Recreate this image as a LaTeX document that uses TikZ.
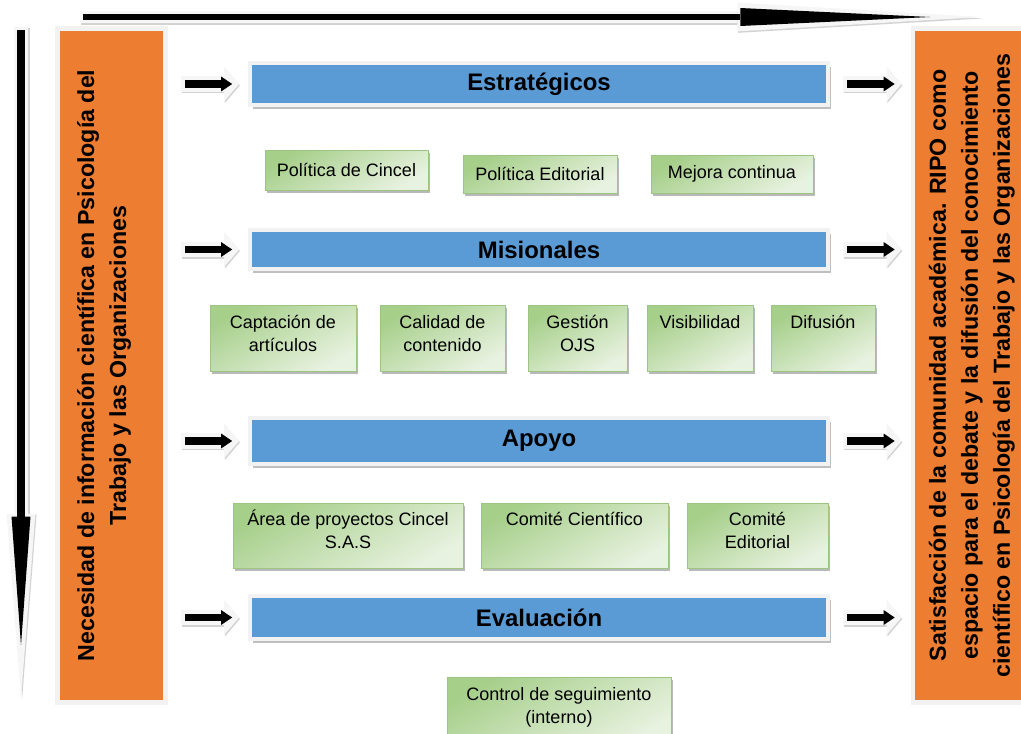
\documentclass[tikz,border=0pt]{standalone}
\usepackage{fontspec}
\setmainfont{Liberation Sans}
\usetikzlibrary{arrows.meta,shadows,positioning}

\definecolor{ripoorange}{HTML}{ED7D31}
\definecolor{ripoblue}{HTML}{5B9BD5}
\definecolor{greendark}{HTML}{A6CF8A}
\definecolor{greenlight}{HTML}{E8F2E0}
\definecolor{greenedge}{HTML}{9CC583}
\definecolor{framegray}{HTML}{F2F2F2}
\definecolor{tanshadow}{HTML}{D2B49C}

\tikzset{
    wh/.style 2 args={minimum width=#1*0.025cm, minimum height=#2*0.025cm},
    toptext/.style 2 args={text height=#1, text depth=#2},
    sidebox/.style={fill=ripoorange, draw=framegray, line width=3.5pt, inner sep=0pt,
        drop shadow={shadow xshift=1.6pt, shadow yshift=-1.6pt, fill=tanshadow, opacity=1},
        font=\fontsize{16.5}{22.7}\selectfont\bfseries},
    bar/.style={fill=ripoblue, draw=framegray, line width=2.8pt, inner sep=0pt,
        drop shadow={shadow xshift=1.8pt, shadow yshift=-2.6pt, fill=gray!50, opacity=1},
        font=\fontsize{17}{20}\selectfont\bfseries},
    task/.style={draw=greenedge, line width=0.6pt, inner sep=0pt, align=center,
        top color=greendark, bottom color=greenlight, shading angle=30,
        drop shadow={shadow xshift=1.6pt, shadow yshift=-2.2pt, fill=gray!55, opacity=1},
        font=\fontsize{12.8}{16.3}\selectfont},
    % layers of the small block arrows
    arredge/.style={draw=gray!35, line width=11.3pt, transform canvas={xshift=0.6pt, yshift=-1pt},
        -{Triangle[length=10.6pt, width=24.8pt, line width=0pt]}, shorten <=9.2pt, shorten >=6.4pt},
    arrlight/.style={draw=gray!7, line width=11.3pt,
        -{Triangle[length=10.6pt, width=24.8pt, line width=0pt]}, shorten <=9.2pt, shorten >=6.4pt},
    arrink/.style={draw=black, line width=5pt,
        -{Triangle[length=7.8pt, width=10.6pt, line width=0pt]}, shorten <=12.4pt, shorten >=11.3pt}
}

\begin{document}
\begin{tikzpicture}[x=0.025cm, y=-0.025cm]
    \useasboundingbox (0,0) rectangle (1021,733);

    % Orange side boxes: need and result
    \node[sidebox, wh={108}{674}] (Need) at (111.5,365.5)
        {\rotatebox{90}{\begin{tabular}{@{}c@{}}Necesidad de información científica en Psicología del\\
        Trabajo y las Organizaciones\end{tabular}}\hspace*{11pt}};
    \node[sidebox, wh={117}{674}] (Satis) at (971.5,365.5)
        {\rotatebox{90}{\begin{tabular}{@{}c@{}}Satisfacción de la comunidad académica. RIPO como\\
        espacio para el debate y la difusión del conocimiento\\
        científico en Psicología del Trabajo y las Organizaciones\end{tabular}}};

    % Process bars
    \draw (539,84) node[bar, wh={578}{42}] (Estrategicos) {Estratégicos}
    ++(0,165.5) node[bar, wh={578}{39}] (Misionales) {Misionales}
    ++(0,191.5) node[bar, wh={578}{46}] (Apoyo) {Apoyo}
    ++(0,176.5) node[bar, wh={578}{43}] (Evaluacion) {Evaluación};

    % Strategic
    \node[task, wh={163}{40}] (PolCincel) at (346.5,170) {Política de Cincel};
    \node[task, wh={154}{38}] (PolEditorial) at (540,174) {Política Editorial};
    \node[task, wh={162}{38}] (Mejora) at (732,174) {Mejora continua};

    % Missional
    \node[task, wh={146}{66}, toptext={1.15cm}{0.5cm}] (Captacion) at (283,338) {Captación de\\artículos};
    \node[task, wh={125}{66}, toptext={1.15cm}{0.5cm}] (Calidad) at (442.5,338) {Calidad de\\contenido};
    \node[task, wh={99}{66}, toptext={1.15cm}{0.5cm}] (Gestion) at (577.5,338) {Gestión\\OJS};
    \node[task, wh={106}{66}, toptext={0.575cm}{1.075cm}] (Visibilidad) at (700,338) {Visibilidad};
    \node[task, wh={104}{66}, toptext={0.575cm}{1.075cm}] (Difusion) at (823,338) {Difusión};

    % Support
    \node[task, wh={230}{65}, toptext={1.125cm}{0.5cm}] (AreaProy) at (348,535.5) {Área de proyectos Cincel\\S.A.S};
    \node[task, wh={187}{65}, toptext={0.55cm}{1.075cm}] (ComCientifico) at (574.5,535.5) {Comité Científico};
    \node[task, wh={141}{65}, toptext={1.125cm}{0.5cm}] (ComEditorial) at (757.5,535.5) {Comité\\Editorial};

    % Evaluation
    \node[task, wh={224}{68}, toptext={1.15cm}{0.55cm}] (Control) at (559,711) {Control de seguimiento\\(interno)};

    \foreach \bar in {Estrategicos,Misionales,Apoyo,Evaluacion}
    \foreach \layer in {arredge,arrlight,arrink}
    {
        \draw[\layer] (Need.east |- \bar) -- (\bar.west);
        \draw[\layer] (\bar.east) -- (Satis.west |- \bar);
    }

    % Long arrows along the top and the left side
    \coordinate (TopFrom) at (80,17);
    \coordinate (TopTo) at (982,17);
    \coordinate (DownFrom) at (21,27);
    \coordinate (DownTo) at (21,698);

    \draw[draw=gray!35, line width=9.2pt, transform canvas={xshift=0.6pt, yshift=-1pt},
        -{Triangle[length=174pt, width=20.5pt, line width=0pt]}] (TopFrom) -- (TopTo);
    \draw[draw=gray!7, line width=9.2pt,
        -{Triangle[length=174pt, width=20.5pt, line width=0pt]}] (TopFrom) -- (TopTo);
    \draw[draw=black, line width=4.25pt, shorten <=2.1pt, shorten >=36.9pt,
        -{Triangle[length=135pt, width=12.8pt, line width=0pt]}] (TopFrom) -- (TopTo);

    \draw[draw=gray!35, line width=10.6pt, transform canvas={xshift=0.8pt, yshift=-0.6pt},
        -{Triangle[length=131pt, width=20.5pt, line width=0pt]}] (DownFrom) -- (DownTo);
    \draw[draw=gray!7, line width=10.6pt,
        -{Triangle[length=131pt, width=20.5pt, line width=0pt]}] (DownFrom) -- (DownTo);
    \draw[draw=black, line width=5.7pt, shorten <=2.1pt, shorten >=37.6pt,
        -{Triangle[length=91.4pt, width=13.5pt, line width=0pt]}] (DownFrom) -- (DownTo);
\end{tikzpicture}
\end{document}
